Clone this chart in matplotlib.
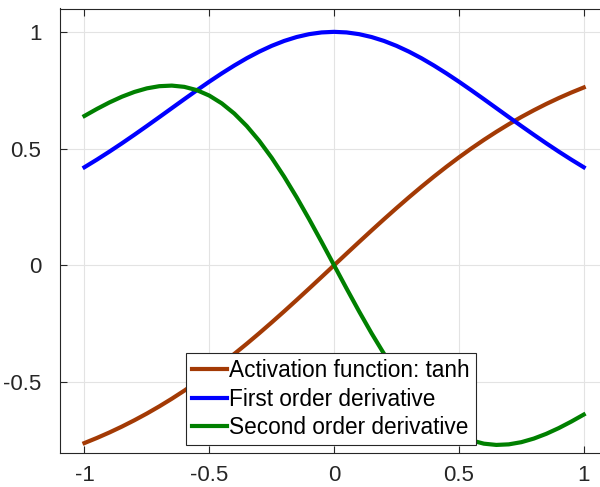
import numpy as np
import matplotlib
matplotlib.use("Agg")
import matplotlib.pyplot as plt

plt.rcParams['font.family'] = ['Liberation Sans', 'DejaVu Sans']

# values, x = -1 .. 1 in steps of 0.05
x = [-1.00, -0.95, -0.90, -0.85, -0.80, -0.75, -0.70, -0.65, -0.60, -0.55,
     -0.50, -0.45, -0.40, -0.35, -0.30, -0.25, -0.20, -0.15, -0.10, -0.05,
     0.00, 0.05, 0.10, 0.15, 0.20, 0.25, 0.30, 0.35, 0.40, 0.45,
     0.50, 0.55, 0.60, 0.65, 0.70, 0.75, 0.80, 0.85, 0.90, 0.95, 1.00]

act = [-0.7616, -0.7398, -0.7163, -0.6911, -0.6640, -0.6352, -0.6044, -0.5717, -0.5371, -0.5005,
       -0.4621, -0.4219, -0.3800, -0.3364, -0.2913, -0.2449, -0.1974, -0.1489, -0.0997, -0.0500,
       0.0000, 0.0500, 0.0997, 0.1489, 0.1974, 0.2449, 0.2913, 0.3364, 0.3800, 0.4219,
       0.4621, 0.5005, 0.5371, 0.5717, 0.6044, 0.6352, 0.6640, 0.6911, 0.7163, 0.7398, 0.7616]

first = [0.4200, 0.4527, 0.4869, 0.5224, 0.5591, 0.5966, 0.6347, 0.6732, 0.7116, 0.7495,
         0.7865, 0.8220, 0.8556, 0.8869, 0.9151, 0.9400, 0.9610, 0.9778, 0.9901, 0.9975,
         1.0000, 0.9975, 0.9901, 0.9778, 0.9610, 0.9400, 0.9151, 0.8869, 0.8556, 0.8220,
         0.7865, 0.7495, 0.7116, 0.6732, 0.6347, 0.5966, 0.5591, 0.5224, 0.4869, 0.4527, 0.4200]

second = [0.6397, 0.6698, 0.6976, 0.7221, 0.7425, 0.7579, 0.7672, 0.7697, 0.7643, 0.7503,
          0.7269, 0.6936, 0.6502, 0.5966, 0.5332, 0.4605, 0.3794, 0.2912, 0.1974, 0.0997,
          0.0000, -0.0997, -0.1974, -0.2912, -0.3794, -0.4605, -0.5332, -0.5966, -0.6502, -0.6936,
          -0.7269, -0.7503, -0.7643, -0.7697, -0.7672, -0.7579, -0.7425, -0.7221, -0.6976, -0.6698, -0.6397]

labels = ["Activation function: tanh", "First order derivative", "Second order derivative"]

fig = plt.figure(figsize=(6, 4.87), dpi=100)
ax = fig.add_axes([59.5 / 600, (487 - 452.7) / 487, 1 - 59.5 / 600 + 0.002, (452.7 - 8.5) / 487])

ax.plot(x, act, color='#a33a05', lw=3, label=labels[0])
ax.plot(x, first, color='#0000ff', lw=3, label=labels[1])
ax.plot(x, second, color='#008000', lw=3, label=labels[2])

ax.set_xlim(-1.1, 1.07)
ax.set_ylim(-0.803, 1.1)
ax.set_xticks([-1, -0.5, 0, 0.5, 1])
ax.set_xticklabels(['-1', '-0.5', '0', '0.5', '1'])
ax.set_yticks([-0.5, 0, 0.5, 1])
ax.set_yticklabels(['-0.5', '0', '0.5', '1'])
ax.grid(True, color='#e3e3e3', lw=0.8)
ax.set_axisbelow(True)
ax.tick_params(direction='in', length=5, width=0.8, colors='#262626', labelsize=16,
               top=True, right=False, labelcolor='#262626')
ax.tick_params(axis='x', pad=9)
ax.tick_params(axis='y', pad=13)
for s in ax.spines.values():
    s.set_color('#262626')
    s.set_linewidth(0.8)

leg = ax.legend(loc='lower left', bbox_to_anchor=(186 / 600, 42 / 487), bbox_transform=fig.transFigure,
                fontsize=16.3, frameon=True, fancybox=False, edgecolor='#262626', framealpha=1,
                borderaxespad=0, handlelength=1.55, handletextpad=0.12, labelspacing=0.25,
                borderpad=0.25)
leg.get_frame().set_linewidth(0.8)

fig.savefig('out.png', dpi=100)
